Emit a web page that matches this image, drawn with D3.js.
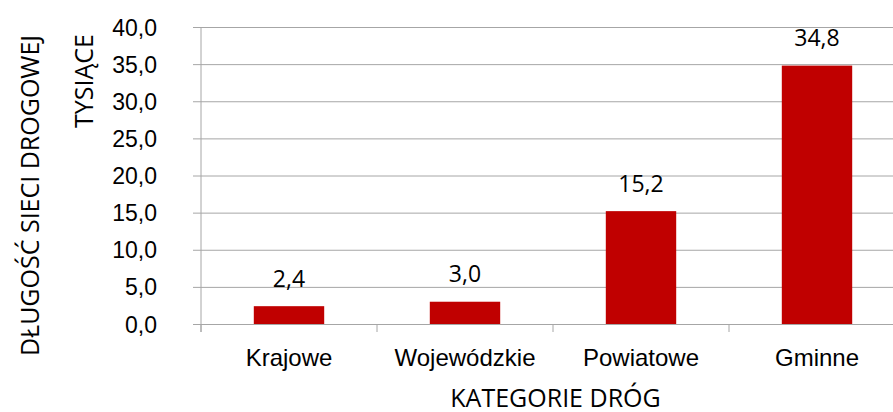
<!DOCTYPE html>
<html>
<head>
<meta charset="utf-8">
<script src="https://cdn.jsdelivr.net/npm/d3@7"></script>
<style>
  body { margin: 0; background: #fff; }
  svg { display: block; font-family: "Open Sans", "Noto Sans", sans-serif; }
</style>
</head>
<body>
<svg id="chart" width="893" height="412"></svg>
<script>
// data
var categories = ["Krajowe", "Wojewódzkie", "Powiatowe", "Gminne"];
var values = [2.4, 3.0, 15.2, 34.8];
var yTicks = [0, 5, 10, 15, 20, 25, 30, 35, 40];

var svg = d3.select("#chart"),
  margin = { top: 27, left: 201, bottom: 88 },
  plotW = 704,
  height = +svg.attr("height") - margin.top - margin.bottom;

var fmt = function(v) { return d3.format(".1f")(v).replace(".", ","); };

var x = d3.scaleBand().domain(categories).range([0, plotW]).padding(0);
var y = d3.scaleLinear().domain([0, 40]).range([height, 0]);

var g = svg.append("g")
  .attr("transform", "translate(" + margin.left + "," + margin.top + ")");

// value axis + gridlines
var yAxis = d3.axisLeft(y)
  .tickValues(yTicks)
  .tickSizeInner(-plotW)
  .tickSizeOuter(0)
  .tickPadding(44)
  .tickFormat(fmt);

var ya = g.append("g").attr("class", "axis axis--y").call(yAxis);
ya.select(".domain").remove();
ya.selectAll(".tick line")
  .attr("x1", -8)
  .attr("stroke", "#a6a6a6")
  .attr("stroke-width", 1);
ya.selectAll(".tick text")
  .attr("fill", "#000")
  .attr("font-size", 23)
  .attr("dy", "0.35em");

// vertical axis line
g.append("line")
  .attr("x1", 0).attr("x2", 0)
  .attr("y1", y(40)).attr("y2", y(0) + 8)
  .attr("stroke", "#a6a6a6");

// category ticks at band edges
var edges = categories.map(function(c) { return x(c); }).concat([x(categories[categories.length - 1]) + x.step()]);
g.selectAll(".edge")
  .data(edges)
  .enter()
  .append("line")
  .attr("class", "edge")
  .attr("x1", function(d) { return d; })
  .attr("x2", function(d) { return d; })
  .attr("y1", y(0))
  .attr("y2", y(0) + 8)
  .attr("stroke", "#a6a6a6");

// category axis labels
var xa = g.append("g")
  .attr("transform", "translate(0," + height + ")")
  .call(d3.axisBottom(x).tickSize(0).tickPadding(25));
xa.select(".domain").remove();
xa.selectAll(".tick text")
  .attr("fill", "#000")
  .attr("font-size", 24);

// bars
var barW = x.bandwidth() * 0.4;
g.selectAll(".bar")
  .data(values)
  .enter()
  .append("rect")
  .attr("class", "bar")
  .attr("x", function(d, i) { return x(categories[i]) + (x.bandwidth() - barW) / 2; })
  .attr("width", barW)
  .attr("y", function(d) { return y(d); })
  .attr("height", function(d) { return y(0) - y(d); })
  .attr("fill", "#c00000");

// value labels
g.selectAll(".label")
  .data(values)
  .enter()
  .append("text")
  .attr("class", "label")
  .attr("x", function(d, i) { return x(categories[i]) + x.bandwidth() / 2; })
  .attr("y", function(d) { return y(d) - 19.5; })
  .attr("text-anchor", "middle")
  .attr("font-size", 23)
  .attr("fill", "#000")
  .text(fmt);

// axis titles
svg.append("text")
  .attr("x", 555.5)
  .attr("y", 406.5)
  .attr("text-anchor", "middle")
  .attr("font-size", 25)
  .attr("fill", "#000")
  .text("KATEGORIE DRÓG");

svg.append("text")
  .attr("transform", "translate(38.5,195.5) rotate(-90)")
  .attr("text-anchor", "middle")
  .attr("font-size", 25)
  .attr("fill", "#000")
  .text("DŁUGOŚĆ SIECI DROGOWEJ");

svg.append("text")
  .attr("transform", "translate(93,81) rotate(-90)")
  .attr("text-anchor", "middle")
  .attr("font-size", 25)
  .attr("fill", "#000")
  .text("TYSIĄCE");
</script>
</body>
</html>
